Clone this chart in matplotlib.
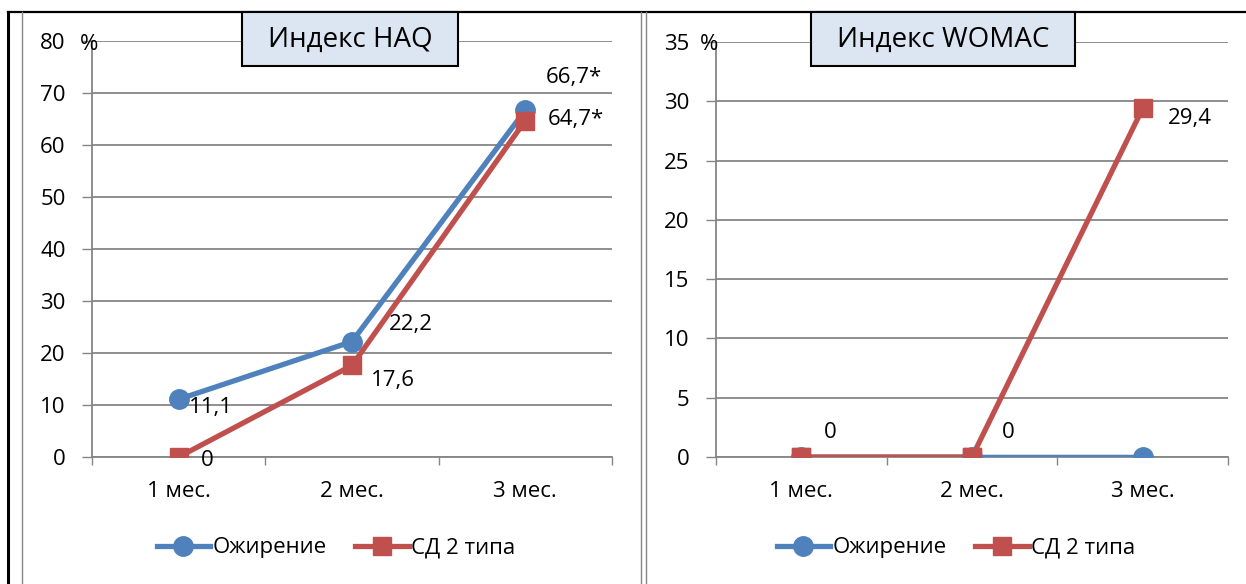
import matplotlib
matplotlib.use('Agg')
import matplotlib.pyplot as plt
from matplotlib.lines import Line2D
from matplotlib.patches import Rectangle

plt.rcParams['font.family'] = ['Open Sans', 'DejaVu Sans']

months = ['1 мес.', '2 мес.', '3 мес.']
series_names = ['Ожирение', 'СД 2 типа']

haq_obesity = [11.1, 22.2, 66.7]
haq_diabetes = [0, 17.6, 64.7]
haq_obesity_labels = ['11,1', '22,2', '66,7*']
haq_diabetes_labels = ['0', '17,6', '64,7*']

womac_obesity = [0, 0, 0]
womac_diabetes = [0, 0, 29.4]
womac_diabetes_labels = ['0', '0', '29,4']

blue = '#4F81BD'
red = '#C0504D'
grid_col = '#868686'
fs = 16

W, H = 1246, 584
fig = plt.figure(figsize=(W / 100, H / 100), dpi=100)


def px_box(x0, y0, x1, y1):
    # пиксели -> доли фигуры
    return [x0 / W, 1 - y1 / H, (x1 - x0) / W, (y1 - y0) / H]


def setup_axes(ax, ymax, step):
    x = [0.5, 1.5, 2.5]
    ax.set_xlim(0, 3)
    ax.set_ylim(0, ymax)
    ax.set_yticks(range(0, ymax + 1, step))
    ax.set_xticks([0, 1, 2, 3])
    ax.set_xticklabels([])
    ax.set_xticks(x, minor=True)
    ax.set_xticklabels(months, minor=True, fontsize=fs)
    ax.tick_params(axis='x', which='major', length=6, width=1, color=grid_col, direction='out')
    ax.tick_params(axis='x', which='minor', length=0, pad=17)
    ax.tick_params(axis='y', length=7, width=1, color=grid_col, labelsize=fs, pad=12)
    for side in ['top', 'right']:
        ax.spines[side].set_visible(False)
    for side in ['left', 'bottom']:
        ax.spines[side].set_color(grid_col)
        ax.spines[side].set_linewidth(1.3)
    ax.yaxis.grid(True, color=grid_col, linewidth=1.3)
    ax.set_axisbelow(True)
    return x


def label(ax, x, y, text, dx, dy):
    ax.annotate(text, (x, y), xytext=(dx, -dy), textcoords='offset pixels',
                fontsize=fs, ha='left', va='center', annotation_clip=False)


def title_box(x0, x1, text):
    fig.add_artist(Rectangle((x0 / W, 1 - 66 / H), (x1 - x0) / W, 54 / H,
                             transform=fig.transFigure, facecolor='#DCE6F2',
                             edgecolor='black', linewidth=1.5, zorder=5))
    fig.text((x0 + x1) / 2 / W, 1 - 40 / H, text, fontsize=20,
             ha='center', va='center', zorder=6)


# Индекс HAQ
ax1 = fig.add_axes(px_box(92, 41, 612, 457))
x = setup_axes(ax1, 80, 10)
ax1.plot(x, haq_obesity, color=blue, lw=3.8, marker='o', ms=14, label=series_names[0], zorder=3)
ax1.plot(x, haq_diabetes, color=red, lw=3.8, marker='s', ms=13, label=series_names[1], zorder=4)
for xi, yi, t, (dx, dy) in zip(x, haq_obesity, haq_obesity_labels, [(10, 8), (37, -17), (20, -33)]):
    label(ax1, xi, yi, t, dx, dy)
for xi, yi, t, (dx, dy) in zip(x, haq_diabetes, haq_diabetes_labels, [(22, 4), (19, 15), (22, -1)]):
    label(ax1, xi, yi, t, dx, dy)
ax1.annotate('%', (0, 80), xycoords=('axes fraction', 'data'), xytext=(-12, -3),
             textcoords='offset pixels', fontsize=fs, ha='left', va='center',
             annotation_clip=False)
ax1.legend(loc='center', bbox_to_anchor=(336 / W, 1 - 548 / H), bbox_transform=fig.transFigure,
           ncol=2, frameon=False, fontsize=fs, handlelength=2.4, handletextpad=0.1,
           columnspacing=1.3)

# Индекс WOMAC
ax2 = fig.add_axes(px_box(716, 42, 1228, 457))
x = setup_axes(ax2, 35, 5)
ax2.plot(x, womac_obesity, color=blue, lw=3.8, marker='o', ms=14, label=series_names[0], zorder=3)
ax2.plot(x[:2], womac_diabetes[:2], color=red, lw=3.8, marker='s', ms=13, zorder=4)
ax2.plot(x, womac_diabetes, color=red, lw=3.8, marker='s', ms=13, label=series_names[1], zorder=2)
ax2.plot(x[1:], womac_obesity[1:], color=blue, lw=3.8, zorder=3)
for xi, yi, t, (dx, dy) in zip(x, womac_diabetes, womac_diabetes_labels, [(23, -25), (30, -25), (25, 10)]):
    label(ax2, xi, yi, t, dx, dy)
ax2.annotate('%', (0, 35), xycoords=('axes fraction', 'data'), xytext=(-16, -3),
             textcoords='offset pixels', fontsize=fs, ha='left', va='center',
             annotation_clip=False)
ax2.legend(loc='center', bbox_to_anchor=(956 / W, 1 - 548 / H), bbox_transform=fig.transFigure,
           ncol=2, frameon=False, fontsize=fs, handlelength=2.4, handletextpad=0.1,
           columnspacing=1.3)

# рамки
fig.add_artist(Line2D([8 / W, 1], [1 - 12 / H] * 2, color='black', lw=1.6))
fig.add_artist(Line2D([8 / W] * 2, [0, 1 - 12 / H], color='black', lw=2.2))
for xp in [22, 641, 646]:
    fig.add_artist(Line2D([xp / W] * 2, [0, 1 - 12 / H], color=grid_col, lw=1))

title_box(242, 458, 'Индекс HAQ')
title_box(811, 1075, 'Индекс WOMAC')

fig.savefig('out.png', dpi=100)
